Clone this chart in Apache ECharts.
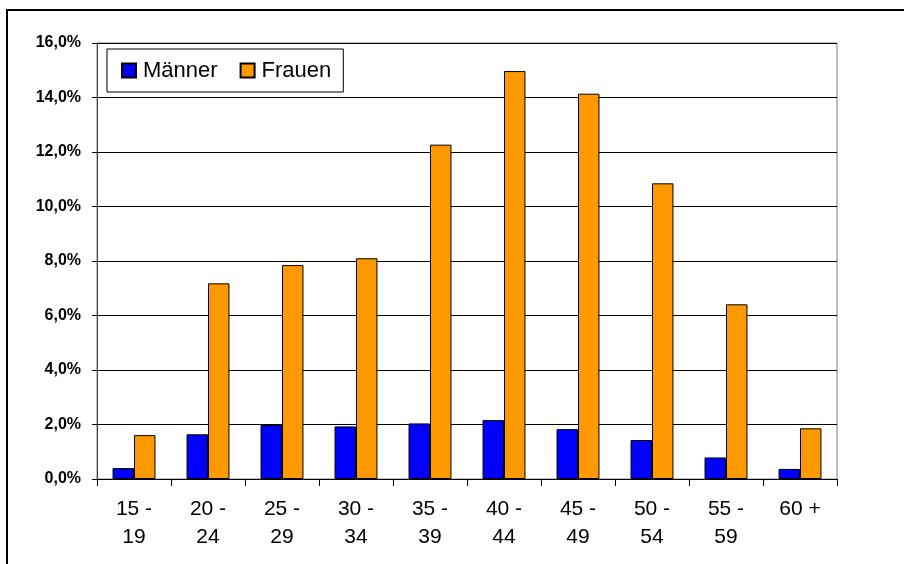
<!DOCTYPE html>
<html>
<head>
<meta charset="utf-8">
<script src="https://cdn.jsdelivr.net/npm/echarts@6/dist/echarts.min.js"></script>
<style>
  html, body { margin: 0; padding: 0; background: #fff; }
  #chart { width: 904px; height: 564px; }
</style>
</head>
<body>
<div id="chart"></div>
<script>
// Altersgruppen
const categories = ['15 -\n19', '20 -\n24', '25 -\n29', '30 -\n34', '35 -\n39',
                    '40 -\n44', '45 -\n49', '50 -\n54', '55 -\n59', '60 +'];
// Anteile in Prozent
const maenner = [0.40, 1.64, 1.98, 1.93, 2.04, 2.16, 1.83, 1.43, 0.79, 0.37];
const frauen  = [1.61, 7.18, 7.85, 8.10, 12.27, 14.97, 14.14, 10.85, 6.41, 1.86];
const seriesNames = ['Männer', 'Frauen'];
const yMax = 16;
const yStep = 2;

const FONT = '"Liberation Sans", Arial, sans-serif';

const chart = echarts.init(document.getElementById('chart'), null, { renderer: 'canvas' });

chart.setOption({
  animation: false,
  backgroundColor: '#ffffff',
  grid: {
    left: 97, right: 67, top: 43, bottom: 85,
    show: true,
    borderColor: '#808080',
    borderWidth: 1,
    backgroundColor: 'transparent'
  },
  legend: {
    left: 107, top: 49,
    orient: 'horizontal',
    data: seriesNames,
    icon: 'rect',
    itemWidth: 14, itemHeight: 14,
    itemGap: 22,
    padding: [10, 12, 10, 14],
    backgroundColor: '#ffffff',
    borderColor: '#000000',
    borderWidth: 1,
    textStyle: { fontFamily: FONT, fontSize: 22, color: '#000', lineHeight: 23, padding: [0, 0, 0, 2] }
  },
  xAxis: {
    type: 'category',
    data: categories,
    axisLine: { show: true, lineStyle: { color: '#000', width: 1 } },
    axisTick: { show: true, length: 7, alignWithLabel: false, lineStyle: { color: '#000' } },
    axisLabel: {
      fontFamily: FONT, fontSize: 21, color: '#000', lineHeight: 28,
      margin: 16, interval: 0, align: 'center'
    },
    splitLine: { show: false }
  },
  yAxis: {
    type: 'value',
    min: 0, max: yMax, interval: yStep,
    axisLine: { show: true, lineStyle: { color: '#404040', width: 1 } },
    axisTick: { show: true, length: 5, lineStyle: { color: '#000' } },
    axisLabel: {
      fontFamily: FONT, fontSize: 16, fontWeight: 'bold', color: '#000', margin: 16,
      formatter: v => v.toFixed(1).replace('.', ',') + '%'
    },
    splitLine: { show: true, lineStyle: { color: '#000', width: 1 } }
  },
  series: [
    {
      name: seriesNames[0], type: 'bar', data: maenner,
      barGap: '0%', barCategoryGap: '42%',
      itemStyle: { color: '#0000ff', borderColor: '#000', borderWidth: 1 }
    },
    {
      name: seriesNames[1], type: 'bar', data: frauen,
      barGap: '0%', barCategoryGap: '42%',
      itemStyle: { color: '#ff9900', borderColor: '#000', borderWidth: 1 }
    }
  ],
  graphic: [
    {
      type: 'rect', silent: true, z: 100,
      shape: { x: 7, y: 10, width: 1200, height: 1200 },
      style: { fill: 'none', stroke: '#000', lineWidth: 2 }
    }
  ]
});
</script>
</body>
</html>
